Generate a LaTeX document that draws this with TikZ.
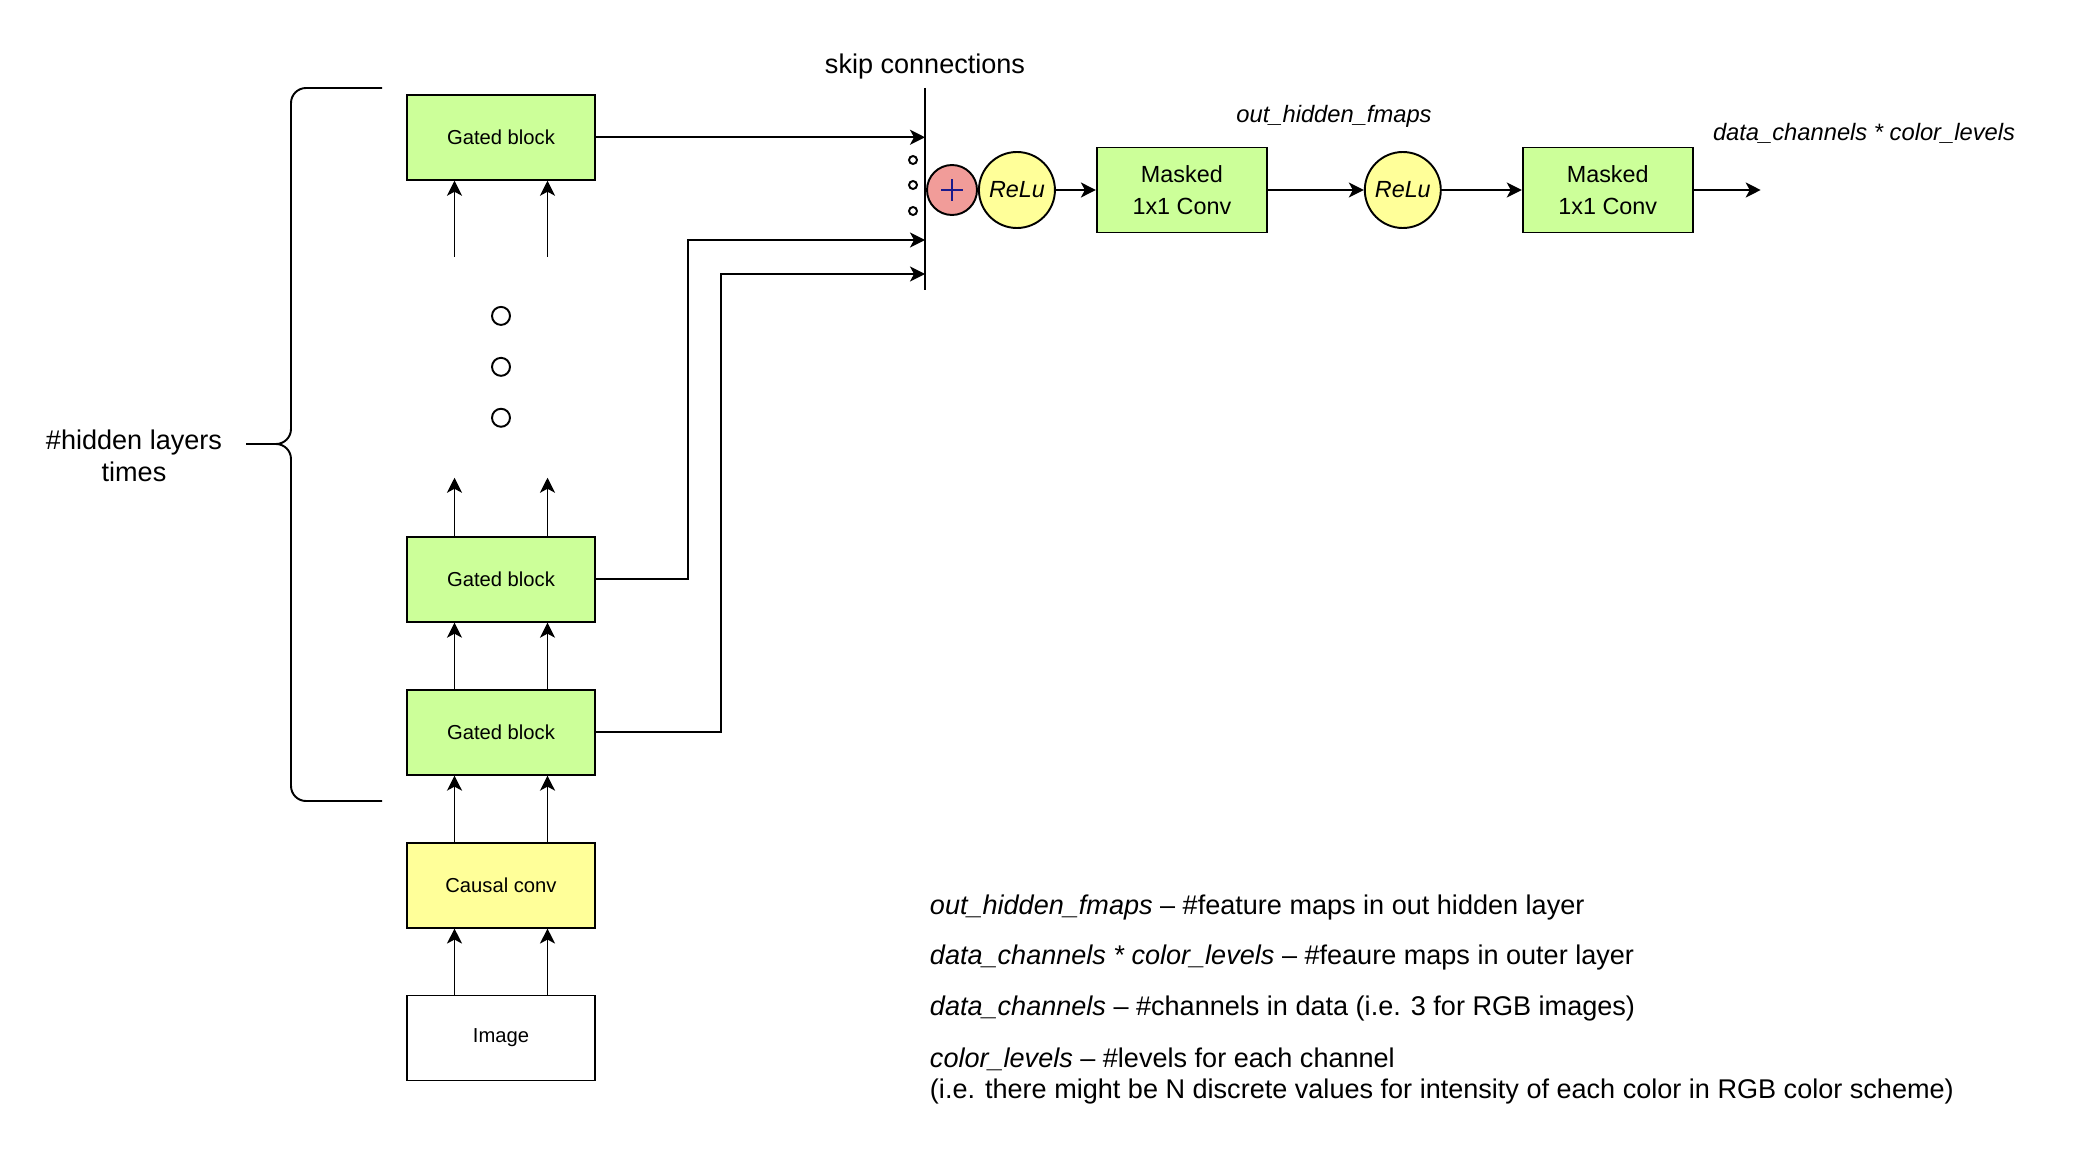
\documentclass[tikz,border=0pt]{standalone}
\usepackage{fontspec}
\setmainfont{Liberation Sans}
\usepackage{tikz}
\usetikzlibrary{arrows.meta, positioning, calc}
\usepackage{xcolor}
\definecolor{gatedgreen}{HTML}{CCFF99}
\definecolor{convyellow}{HTML}{FFFF99}
\definecolor{sumred}{HTML}{F19C99}
\definecolor{plusblue}{HTML}{1A1A8C}

\begin{document}
\begin{tikzpicture}[
    line width=1.1pt,
    block/.style = {rectangle, draw=black, fill=white, minimum width=3.76cm, minimum height=1.7cm, align=center, font=\fontsize{11.5}{14}\selectfont},
    conv/.style = {rectangle, draw=black, fill=gatedgreen, minimum width=3.4cm, minimum height=1.7cm, align=center, font=\fontsize{13.3}{18}\selectfont},
    act/.style = {circle, draw=black, fill=convyellow, minimum size=1.52cm, inner sep=0pt, font=\fontsize{13.3}{16}\selectfont\itshape},
    ring/.style = {circle, draw=black, fill=white, inner sep=0pt, minimum size=#1},
    lbl/.style = {font=\fontsize{15.4}{18}\selectfont, inner sep=0pt},
    note/.style = {font=\fontsize{13.5}{16}\selectfont\itshape, inner sep=0pt},
    arr/.style = {-{Stealth[length=0.3cm, width=0.3cm, inset=0.08cm]}}
]
    \useasboundingbox (0,0) rectangle (41.72,-23.24);

    % 1. Column of blocks, bottom to top
    \node [block] (img) at (10.02,-20.76) {Image};
    \node [block, fill=convyellow, above=1.32cm of img] (causal) {Causal conv};
    \node [block, fill=gatedgreen, above=1.32cm of causal] (gate1) {Gated block};
    \node [block, fill=gatedgreen, above=1.32cm of gate1] (gate2) {Gated block};
    \node [block, fill=gatedgreen, above=7.10cm of gate2] (gateN) {Gated block};

    % 2. Repeated layers (dots) and the loose arrow ends
    \node [ring=0.36cm, above=2.16cm of gate2] (dotA) {};
    \node [ring=0.36cm, above=0.62cm of dotA] (dotB) {};
    \node [ring=0.36cm, above=0.62cm of dotB] (dotC) {};
    \coordinate (outL) at ([xshift=-0.93cm, yshift=1.16cm]gate2.north);
    \coordinate (outR) at ([xshift=0.93cm, yshift=1.16cm]gate2.north);
    \coordinate (inL) at ([xshift=-0.93cm, yshift=-1.52cm]gateN.south);
    \coordinate (inR) at ([xshift=0.93cm, yshift=-1.52cm]gateN.south);

    % 3. Brace over the hidden layers
    \draw [rounded corners=0.3cm] (7.64,-1.76) -- (5.82,-1.76) -- (5.82,-8.88) -- (4.92,-8.88);
    \draw [rounded corners=0.3cm] (7.64,-16.02) -- (5.82,-16.02) -- (5.82,-8.88) -- (4.92,-8.88);
    \node [lbl, align=center] (hidden) at (2.68,-9.12) {\#hidden layers\\times};

    % 4. Skip connections bar and output path
    \coordinate (skipTop) at (18.5,-1.76);
    \coordinate (skipBot) at (18.5,-5.8);
    \coordinate (skipA) at (18.5,-4.80);
    \coordinate (skipB) at (18.5,-5.48);
    \draw (skipTop) -- (skipBot);
    \node [lbl, above=0.16cm of skipTop] (skiplbl) {skip connections};
    \node [ring=0.16cm] (sdotA) at (18.26,-3.20) {};
    \node [ring=0.16cm] (sdotB) at (18.26,-3.70) {};
    \node [ring=0.16cm] (sdotC) at (18.26,-4.22) {};

    \node [circle, draw=black, fill=sumred, minimum size=1cm, inner sep=0pt] (sum) at (19.04,-3.8) {};
    \draw [plusblue, line width=0.9pt] ([xshift=-0.22cm]sum.center) -- ([xshift=0.22cm]sum.center);
    \draw [plusblue, line width=0.9pt] ([yshift=-0.22cm]sum.center) -- ([yshift=0.22cm]sum.center);
    \node [act, right=0cm of sum] (relu1) {ReLu};
    \node [conv, right=0.8cm of relu1] (mask1) {Masked\\1x1 Conv};
    \node [act, right=1.92cm of mask1] (relu2) {ReLu};
    \node [conv, right=1.6cm of relu2] (mask2) {Masked\\1x1 Conv};
    \coordinate [right=1.34cm of mask2] (out);

    \node [note] (hidlbl) at (26.68,-2.32) {out\_hidden\_fmaps};
    \node [note] (outlbl) at (37.28,-2.66) {data\_channels * color\_levels};

    % 5. Arrows up the column
    \draw [arr] ([xshift=-0.93cm]img.north) -- ([xshift=-0.93cm]causal.south);
    \draw [arr] ([xshift=0.93cm]img.north) -- ([xshift=0.93cm]causal.south);
    \draw [arr] ([xshift=-0.93cm]causal.north) -- ([xshift=-0.93cm]gate1.south);
    \draw [arr] ([xshift=0.93cm]causal.north) -- ([xshift=0.93cm]gate1.south);
    \draw [arr] ([xshift=-0.93cm]gate1.north) -- ([xshift=-0.93cm]gate2.south);
    \draw [arr] ([xshift=0.93cm]gate1.north) -- ([xshift=0.93cm]gate2.south);
    \draw [arr] ([xshift=-0.93cm]gate2.north) -- (outL);
    \draw [arr] ([xshift=0.93cm]gate2.north) -- (outR);
    \draw [arr] (inL) -- ([xshift=-0.93cm]gateN.south);
    \draw [arr] (inR) -- ([xshift=0.93cm]gateN.south);

    % 6. Skip connections into the bar
    \draw [arr] (gateN.east) -- (gateN.east -| skipTop);
    \draw [arr] (gate2.east) -- ++(1.84,0) |- (skipA);
    \draw [arr] (gate1.east) -- ++(2.5,0) |- (skipB);

    % 7. Output chain
    \draw [arr] (relu1.east) -- (mask1.west);
    \draw [arr] (mask1.east) -- (relu2.west);
    \draw [arr] (relu2.east) -- (mask2.west);
    \draw [arr] (mask2.east) -- (out);

    % 8. Legend
    \node [lbl, anchor=west] (leg1) at (18.58,-18.15) {\textit{out\_hidden\_fmaps} -- \#feature maps in out hidden layer};
    \node [lbl, anchor=west] (leg2) at (18.58,-19.15) {\textit{data\_channels * color\_levels} -- \#feaure maps in outer layer};
    \node [lbl, anchor=west] (leg3) at (18.58,-20.17) {\textit{data\_channels} -- \#channels in data (i.e. 3 for RGB images)};
    \node [lbl, anchor=west, align=left] (leg4) at (18.58,-21.52) {\textit{color\_levels} -- \#levels for each channel\\(i.e. there might be N discrete values for intensity of each color in RGB color scheme)};
\end{tikzpicture}
\end{document}
